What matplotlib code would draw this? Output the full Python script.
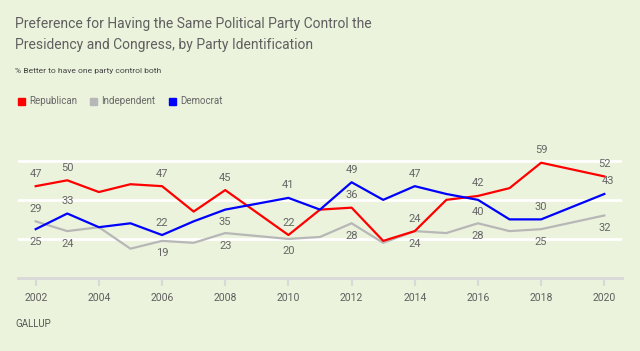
import matplotlib.pyplot as plt
from matplotlib.patches import Rectangle

years = [2002, 2003, 2004, 2005, 2006, 2007, 2008, 2010, 2011, 2012, 2013, 2014, 2015, 2016, 2017, 2018, 2020]
republican = [47, 50, 44, 48, 47, 34, 45, 22, 35, 36, 19, 24, 40, 42, 46, 59, 52]
independent = [29, 24, 26, 15, 19, 18, 23, 20, 21, 28, 18, 24, 23, 28, 24, 25, 32]
democrat = [25, 33, 26, 28, 22, 29, 35, 41, 35, 49, 40, 47, 43, 40, 30, 30, 43]

# which points get a label, and whether it sits above (1) or below (-1)
rep_labels = {2002: 1, 2003: 1, 2006: 1, 2008: 1, 2010: 1, 2012: 1, 2014: 1, 2016: 1, 2018: 1, 2020: 1}
ind_labels = {2002: 1, 2003: -1, 2006: -1, 2008: -1, 2010: -1, 2012: -1, 2014: -1, 2016: -1, 2018: -1, 2020: -1}
dem_labels = {2002: -1, 2003: 1, 2006: 1, 2008: -1, 2010: 1, 2012: 1, 2014: 1, 2016: -1, 2018: 1, 2020: 1}

bg = '#ebf3dc'
txt = '#5f5f5f'
plt.rcParams['font.family'] = ['Roboto', 'DejaVu Sans']

fig = plt.figure(figsize=(6.4, 3.51), dpi=100, facecolor=bg)
ax = fig.add_axes([18 / 640, 73 / 351, (622 - 18) / 640, 127 / 351])
ax.set_facecolor(bg)
ax.set_xlim(2001.44, 2020.56)
ax.set_ylim(0, 65)

for v in [20, 40, 60]:
    ax.axhline(v, color='white', lw=2, zorder=1)

series = [
    (independent, '#b7b7b7', ind_labels),
    (republican, '#ff0000', rep_labels),
    (democrat, '#0000ff', dem_labels),
]
for vals, col, labs in series:
    ax.plot(years, vals, color=col, lw=1.6, zorder=3)
    for yr, side in labs.items():
        v = vals[years.index(yr)]
        dx = 3 if yr == 2020 and col == '#0000ff' else 0
        ax.annotate(str(v), (yr, v), xytext=(dx, 9 * side), textcoords='offset points',
                    ha='center', va='center', fontsize=8, color='#666666', zorder=4)

for s in ['top', 'right', 'left']:
    ax.spines[s].set_visible(False)
ax.spines['bottom'].set_color('#d9d9d9')
ax.spines['bottom'].set_linewidth(2)
ax.set_yticks([])
ax.set_xticks(range(2002, 2021, 2))
ax.tick_params(axis='x', length=6, width=1.5, color='#d9d9d9', labelsize=7.5,
               labelcolor=txt, pad=5)

fig.text(15 / 640, 1 - 24 / 351, 'Preference for Having the Same Political Party Control the',
         fontsize=10, color=txt, va='center')
fig.text(15 / 640, 1 - 45 / 351, 'Presidency and Congress, by Party Identification',
         fontsize=10, color=txt, va='center')
fig.text(15 / 640, 1 - 71 / 351, '% Better to have one party control both',
         fontsize=6.1, color='#444444', va='center')

legend = [('Republican', '#ff0000', 18), ('Independent', '#b7b7b7', 90), ('Democrat', '#0000ff', 169)]
for name, col, x in legend:
    fig.patches.append(Rectangle((x / 640, 1 - 105 / 351), 7 / 640, 7 / 351,
                                 transform=fig.transFigure, color=col))
    fig.text((x + 11) / 640, 1 - 101.5 / 351, name, fontsize=7, color='#666666', va='center')

fig.text(15 / 640, 1 - 324 / 351, 'GALLUP', fontsize=7, color='#555555', va='center')

fig.savefig('out.png', dpi=100, facecolor=bg)
